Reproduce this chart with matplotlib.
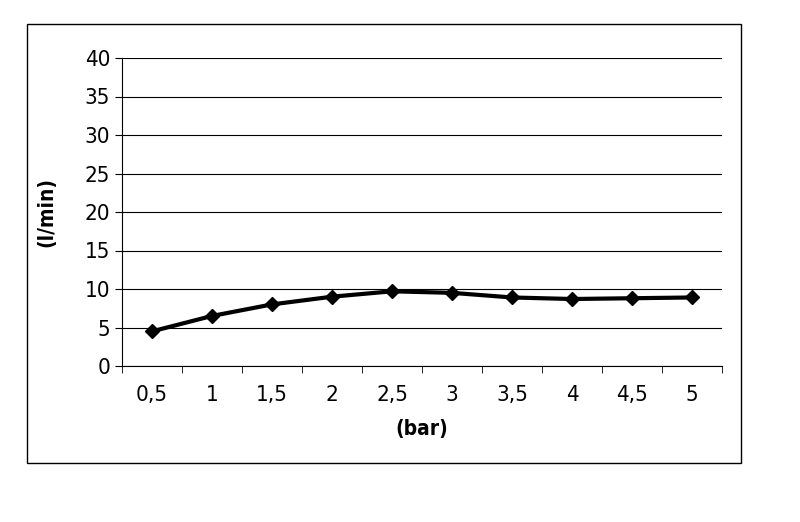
import matplotlib
matplotlib.use("Agg")
import matplotlib.pyplot as plt
from matplotlib.patches import Rectangle

categories = ["0,5", "1", "1,5", "2", "2,5", "3", "3,5", "4", "4,5", "5"]
values = [4.5, 6.5, 8.0, 9.0, 9.7, 9.5, 8.9, 8.7, 8.8, 8.9]
yticks = [0, 5, 10, 15, 20, 25, 30, 35, 40]

plt.rcParams['font.family'] = ['DejaVu Sans']
plt.rcParams['font.stretch'] = 'condensed'
fig = plt.figure(figsize=(8, 5.22), dpi=100)
fig.patches.append(Rectangle((27/800, 1-463/522), (741-27)/800, (463-24)/522,
                             transform=fig.transFigure, fill=False, edgecolor='black', lw=1))
ax = fig.add_axes([122/800, 1-366/522, 600/800, 308/522])
x = list(range(len(categories)))
ax.plot(x, values, color='black', lw=3, marker='D', markersize=7, zorder=3)
ax.set_xlim(-0.5, len(categories)-0.5)
ax.set_ylim(0, 40)
ax.set_yticks(yticks)
ax.set_yticklabels([str(v) for v in yticks], fontsize=16, stretch='condensed')
ax.set_xticks(x)
ax.set_xticklabels(categories, fontsize=16, stretch='condensed')
ax.set_xticks([i-0.5 for i in range(len(categories)+1)], minor=True)
ax.tick_params(axis='x', which='major', length=0, pad=14)
ax.tick_params(axis='x', which='minor', length=5)
ax.tick_params(axis='y', length=5)
ax.grid(axis='y', color='black', lw=0.8)
for s in ['top', 'right']:
    ax.spines[s].set_visible(False)
ax.set_xlabel("(bar)", fontsize=15, fontweight='bold', labelpad=10, stretch='condensed')
ax.set_ylabel("(l/min)", fontsize=15, fontweight='bold', labelpad=20, stretch='condensed')
fig.savefig("out.png", dpi=100)
